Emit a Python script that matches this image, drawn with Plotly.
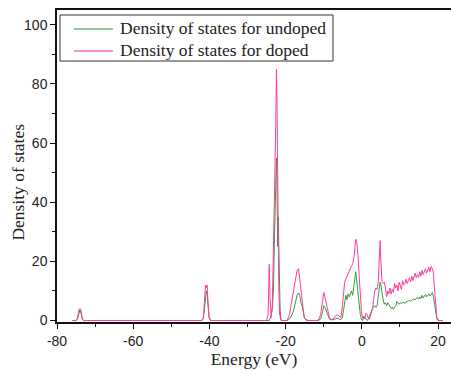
import plotly.graph_objects as go

energy = [-76, -75, -74.6, -74.3, -74.0, -73.7, -73.4, -73.0, -72, -60, -42, -41.6, -41.3, -41.0, -40.8, -40.6, -40.4, -40.1, -39.7, -39, -30,
          -25, -24.6, -24.3, -24.1, -23.8, -23.5, -23.2, -22.9, -22.6, -22.4, -22.25, -22.1, -21.95, -21.8, -21.6, -21.4, -21.2, -21.0, -20.5,
          -19.6, -19.0, -18.5, -18.0, -17.5, -17.0, -16.6, -16.3, -16.0, -15.7, -15.4, -15.1, -14.7, -14.0,
          -11.5, -10.8, -10.3, -10.0, -9.7, -9.3, -8.9, -8.5, -8.0, -7.5, -7.0, -6.5, -6.0, -5.5, -5.1,
          -4.8, -4.5, -4.2, -3.9, -3.6, -3.3, -3.0, -2.7, -2.4, -2.1, -1.8, -1.6, -1.3, -1.0, -0.7, -0.4, -0.1, 0.2, 0.5, 0.8, 1.1, 1.4, 1.7, 2.0,
          2.4, 2.8, 3.1, 3.4, 3.7, 4.0, 4.3, 4.6, 4.8, 5.0, 5.3, 5.6, 5.9, 6.2, 6.5, 6.8, 7.1, 7.4, 7.7, 8.0, 8.3, 8.6, 8.9, 9.2, 9.5, 9.8,
          10.1, 10.4, 10.7, 11.0, 11.3, 11.6, 11.9, 12.2, 12.5, 12.8, 13.1, 13.4, 13.7, 14.0, 14.3, 14.6, 14.9, 15.2, 15.5, 15.8, 16.1, 16.4,
          16.7, 17.0, 17.3, 17.6, 17.9, 18.2, 18.5, 18.8, 19.1, 19.4, 19.7, 20.0, 20.4, 20.8, 21.3]

dos_undoped = [0, 0, 0.5, 2.5, 3.5, 2.5, 0.5, 0, 0, 0, 0, 0.5, 4, 8, 10, 9, 5, 1, 0, 0, 0,
               0, 0, 0, 0.5, 1.5, 4, 10, 30, 50, 55, 45, 25, 35, 23, 5, 1, 0, 0, 0,
               0, 0.5, 1.5, 3, 6, 8.5, 9.3, 8.5, 6, 5, 3, 1, 0.2, 0,
               0, 0.5, 3, 5, 4.5, 3, 1.5, 0.5, 0.2, 0.3, 0.5, 0.8, 0.5, 0.3, 1,
               4, 7.5, 8.5, 7, 9, 8, 9.5, 10, 8.5, 12, 16, 16.5, 13, 9, 5, 2, 0.5, 0, 1.5, 1, 0.3, 0, 0.5, 1.5,
               3, 4, 4.5, 5, 4.5, 5, 8, 12.5, 13, 12, 9, 7, 5.5, 6, 5, 6, 5.5, 4.5, 4, 4.5, 3.8, 4.5, 5, 6.5, 6, 5.5,
               6, 5.7, 6.2, 6, 5.8, 6.3, 6.5, 6.6, 6.8, 6.5, 7, 7.1, 7.3, 7, 7.5, 7.8, 7.2, 8, 7.4, 8.5, 7.6, 8.2,
               8.8, 8.0, 8.5, 9.0, 8.3, 9.2, 9.5, 8.0, 5, 2, 0.5, 0, 0, 0, 0]

dos_doped = [0, 0, 1, 3.5, 4, 3.5, 1, 0, 0, 0, 0, 1, 6, 12, 11, 12, 7, 1.5, 0, 0, 0,
             0, 2, 19, 8, 1, 5, 20, 45, 66, 85, 72, 40, 30, 12, 2, 3, 0.5, 0, 0,
             0, 2, 6, 10, 14, 17, 17.5, 14, 9, 7, 4, 1, 0.3, 0,
             0, 2, 8, 9.5, 8, 6, 3, 1, 0.3, 0.5, 1.5, 2, 1.5, 1, 5,
             10, 13, 14, 15, 16, 17, 18, 18.5, 19, 21, 25, 27.5, 26, 22, 15, 8, 3, 1, 0.5, 0.8, 2.5, 2, 0.8, 0.5,
             2, 4, 7, 10, 11, 10.5, 13, 22, 27, 20, 13, 12.5, 13, 11, 8, 10, 9, 11, 9, 10.5, 9.5, 12.5, 11, 12, 10, 13,
             12, 10.5, 13.5, 12, 12.5, 14, 12.5, 13.5, 14.5, 13, 15, 13.5, 14.5, 16, 14.5, 15.5, 14.5, 16.5, 15, 17, 15.5, 16.5,
             17.5, 16, 17, 18, 16.5, 18.3, 17.5, 16, 10, 4, 1, 0.3, 0, 0, 0]

series_names = ["Density of states for undoped", "Density of states for doped"]
series_colors = ["#3a9a3a", "#ff3d9e"]
legend_colors = ["#8fcb8f", "#ff8cc6"]

fig = go.Figure()
for name, ys, col in zip(series_names, [dos_undoped, dos_doped], series_colors):
    fig.add_trace(go.Scatter(x=energy, y=ys, mode="lines", name=name,
                             line=dict(color=col, width=1), showlegend=False))

# custom compact legend (box, sample lines, labels)
shapes = [dict(type="rect", xref="paper", yref="paper", x0=0.0076, x1=0.7005, y0=0.8365, y1=0.984,
               line=dict(color="#333", width=1), fillcolor="white", layer="above")]
annotations = []
for i, (name, lc) in enumerate(zip(series_names, legend_colors)):
    yy = 0.939 - i * 0.0705
    shapes.append(dict(type="line", xref="paper", yref="paper", x0=0.0431, x1=0.1421, y0=yy, y1=yy,
                       line=dict(color=lc, width=2), layer="above"))
    annotations.append(dict(text=name, xref="paper", yref="paper", x=0.1548, y=yy + 0.004,
                            xanchor="left", yanchor="middle", showarrow=False,
                            font=dict(family="Liberation Serif", size=17.5, color="#222")))

annotations.append(dict(text="Density of states", textangle=-90, xref="paper", yref="paper",
                        x=-0.099, y=0.45, xanchor="center", yanchor="middle", showarrow=False,
                        font=dict(family="Liberation Serif", size=17.5, color="#222")))

fig.update_layout(
    width=451, height=371,
    margin=dict(l=57, r=0, t=10, b=49, autoexpand=False),
    plot_bgcolor="white", paper_bgcolor="white",
    showlegend=False,
    shapes=shapes,
    annotations=annotations,
    xaxis=dict(range=[-80, 23.4], tickvals=[-80, -60, -40, -20, 0, 20],
               ticktext=["-80", "-60", "-40", "-20", "0", "20"],
               ticks="outside", ticklen=5, tickwidth=1, tickcolor="#111",
               showline=True, linecolor="#111", linewidth=1.5, mirror=True,
               showgrid=False, zeroline=False,
               tickfont=dict(family="Liberation Sans", size=14, color="#222"),
               minor=dict(tickvals=[-70, -50, -30, -10, 10], ticks="outside", ticklen=3, tickcolor="#111"),
               title=dict(text="Energy (eV)", font=dict(family="Liberation Serif", size=17.5, color="#222"), standoff=4)),
    yaxis=dict(range=[-0.5, 105], tickvals=[0, 20, 40, 60, 80, 100],
               ticks="outside", ticklen=5, tickwidth=1, tickcolor="#111",
               showline=True, linecolor="#111", linewidth=1.5,
               showgrid=False, zeroline=False,
               tickfont=dict(family="Liberation Sans", size=14, color="#222"),
               minor=dict(tickvals=[10, 30, 50, 70, 90], ticks="outside", ticklen=3, tickcolor="#111")),
)

fig.write_html("out.html", config={"displayModeBar": False},
               post_script="document.body.style.margin='0';document.body.style.overflow='hidden';")
